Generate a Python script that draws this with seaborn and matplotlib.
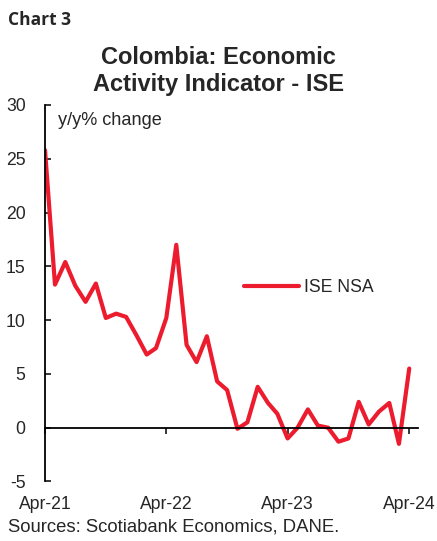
import numpy as np
import pandas as pd
import matplotlib
matplotlib.use("Agg")
import matplotlib.pyplot as plt
import matplotlib.dates as mdates
import seaborn as sns

# monthly y/y % change, Apr-21 .. Apr-24
months = pd.date_range("2021-04-01", "2024-04-01", freq="MS")
ise_nsa = [25.8, 13.3, 15.4, 13.2, 11.7, 13.4, 10.2, 10.6, 10.3, 8.6, 6.8, 7.4,
           10.2, 17.0, 7.7, 6.1, 8.5, 4.3, 3.5, -0.1, 0.5, 3.8, 2.3, 1.3,
           -1.0, 0.0, 1.7, 0.2, 0.0, -1.3, -1.0, 2.4, 0.3, 1.5, 2.3, -1.5, 5.5]
tick_months = ["2021-04-01", "2022-04-01", "2023-04-01", "2024-04-01"]

df = pd.DataFrame({"month": months, "ISE NSA": ise_nsa})

sns.set_style("white")
plt.rcParams["font.family"] = ["Liberation Sans", "DejaVu Sans"]
plt.rcParams["axes.unicode_minus"] = False
red = "#ec1c2e"
fs = 12.7

fig = plt.figure(figsize=(4.37, 5.41), dpi=100)
ax = fig.add_axes([0.103, 0.110, 0.854, 0.696])

sns.lineplot(data=df, x="month", y="ISE NSA", ax=ax, color=red, linewidth=3.0,
             label="ISE NSA", solid_joinstyle="round", solid_capstyle="round")

ax.set_ylim(-5, 30)
ax.set_yticks([-5, 0, 5, 10, 15, 20, 25, 30])
ax.set_xlim(pd.Timestamp("2021-04-01"), pd.Timestamp("2024-04-28"))
ax.set_xticks(pd.to_datetime(tick_months))
ax.xaxis.set_major_formatter(mdates.DateFormatter("%b-%y"))
ax.set_xlabel("")
ax.set_ylabel("")

for s in ["top", "right"]:
    ax.spines[s].set_visible(False)
ax.spines["bottom"].set_position(("data", 0))
for s in ["left", "bottom"]:
    ax.spines[s].set_color("black")
    ax.spines[s].set_linewidth(1.3)

ax.tick_params(axis="y", direction="in", length=4, width=1.3, pad=14, labelsize=fs, left=True)
ax.tick_params(axis="x", direction="out", length=4, width=1.3, pad=45, labelsize=fs, bottom=True)

ax.text(0.035, 0.947, "y/y% change", transform=ax.transAxes, fontsize=13.1, va="baseline")

ax.legend(loc="center left", bbox_to_anchor=(0.534, 0.514), frameon=False, fontsize=fs,
          handlelength=3.1, handletextpad=0.3, borderpad=0, borderaxespad=0)

fig.text(8 / 437, 1 - 25 / 541, "Chart 3", fontsize=12.5, fontweight="bold",
         family=["Open Sans", "DejaVu Sans"], va="baseline")
fig.text(0.5, 1 - 64 / 541, "Colombia: Economic", fontsize=17, fontweight="bold",
         ha="center", va="baseline")
fig.text(0.5, 1 - 91 / 541, "Activity Indicator - ISE", fontsize=17, fontweight="bold",
         ha="center", va="baseline")
fig.text(8 / 437, 1 - 531 / 541, "Sources: Scotiabank Economics, DANE.", fontsize=13.3,
         va="baseline")

fig.savefig("out.png", dpi=100)
